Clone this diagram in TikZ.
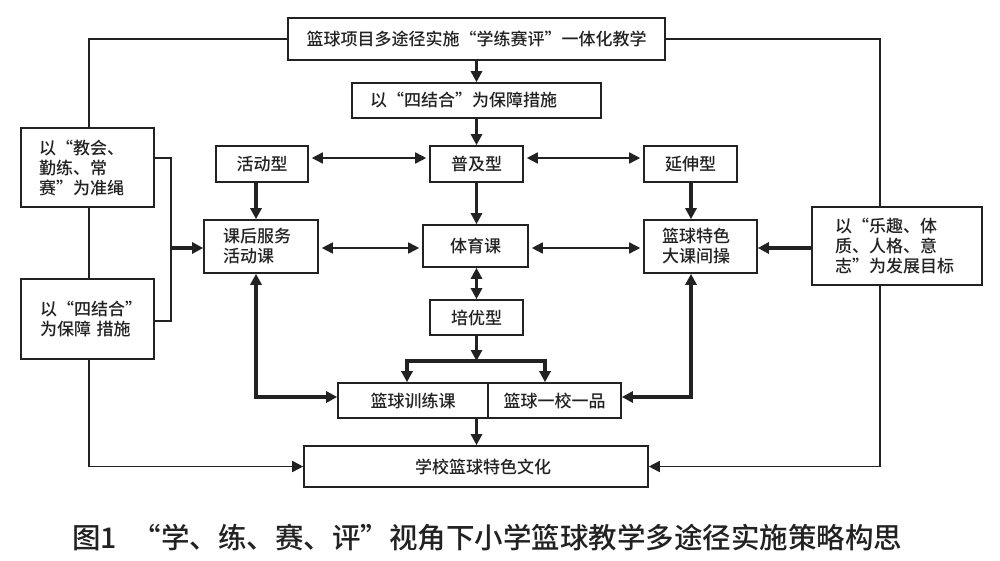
\documentclass[tikz,border=0pt]{standalone}
\usepackage{fontspec}
\setmainfont{Noto Sans CJK SC}[BoldFont={Noto Sans CJK SC Medium}]
\usetikzlibrary{arrows.meta,calc}
\definecolor{ink}{HTML}{222222}
\begin{document}
\begin{tikzpicture}[x=1pt,y=-1pt,
  box/.style={draw=ink, line width=1.6pt, inner sep=0pt, text=ink,
    font=\fontsize{17}{20}\selectfont\bfseries},
  ln/.style={draw=ink, line width=1.7pt},
  thk/.style={draw=ink, line width=3.2pt},
  tip/.style={-{Triangle[length=11pt,width=11pt]}},
  dtip/.style={{Triangle[length=11pt,width=11pt]}-{Triangle[length=11pt,width=11pt]}},
  gap/.style={shorten <=3pt, shorten >=3pt}
]
\useasboundingbox (0,0) rectangle (1000,561);
\fill[white] (0,0) rectangle (1000,561);

% boxes
\node[box, minimum width=377pt, minimum height=42pt] (top) at (476.5,39) {篮球项目多途径实施“学练赛评”一体化教学};
\node[box, minimum height=35pt, text width=213pt, inner xsep=18pt, align=left] (guar) at (476.5,100.5) {以“四结合”为保障措施};
\node[box, minimum width=92pt, minimum height=36pt] (act) at (262,164) {活动型};
\node[box, minimum width=93pt, minimum height=36pt] (pop) at (476.5,164) {普及型};
\node[box, minimum width=93pt, minimum height=36pt] (ext) at (690.5,164) {延伸型};
\node[box, minimum height=79pt, text width=97pt, inner xsep=18pt, align=left] (L1) at (87.5,167.5) {以“教会、\\勤练、常\\赛”为准绳};
\node[box, minimum height=80pt, text width=95pt, inner xsep=19pt, align=left] (L2) at (87.5,319) {以“四结合”\\为保障 措施};
\node[box, minimum height=53pt, text width=76pt, inner xsep=19pt, align=left] (after) at (261,246.5) {课后服务\\活动课};
\node[box, minimum width=105pt, minimum height=42pt] (pe) at (475.5,246) {体育课};
\node[box, minimum height=53pt, text width=77pt, inner xsep=18pt, align=left] (brk) at (700.5,246.5) {篮球特色\\大课间操};
\node[box, minimum height=78pt, text width=124pt, inner xsep=23pt, align=left] (R) at (897,246) {以“乐趣、体\\质、人格、意\\志”为发展目标};
\node[box, minimum width=93pt, minimum height=35pt] (py) at (476.5,317.5) {培优型};
\node[box, minimum width=150pt, minimum height=35pt] (tr) at (413,400.5) {篮球训练课};
\node[box, minimum width=133pt, minimum height=35pt] (one) at (554.5,400.5) {篮球一校一品};
\node[box, minimum width=344pt, minimum height=41pt] (sch) at (476,466.5) {\hspace{14pt}学校篮球特色文化};

\node[text=ink, inner sep=0pt, anchor=west, font=\fontsize{28.5}{30}\selectfont\bfseries] (cap) at (72,538) {图1\hspace{16pt}“学、练、赛、评”视角下小学篮球教学多途径实施策略构思};

% helper coordinates
\coordinate (y158) at (0,158);
\coordinate (y248) at (0,248);
\coordinate (y321) at (0,321);
\coordinate (y397) at (0,397);
\coordinate (xa) at (256,0);
\coordinate (xb) at (691,0);
\coordinate (xl) at (89,0);
\coordinate (xr) at (880,0);
\coordinate (xk) at (171,0);
\coordinate (bl) at (407,361);
\coordinate (br) at (545,361);

% connectors
\draw[thk,tip] (top.south) -- (guar.north);
\draw[thk,tip] (guar.south) -- (pop.north);
\draw[ln,dtip,gap] (act.east|-y158) -- (pop.west|-y158);
\draw[ln,dtip,gap] (pop.east|-y158) -- (ext.west|-y158);
\draw[thk,tip] (act.south-|xa) -- (after.north-|xa);
\draw[thk,tip] (pop.south) -- (pe.north-|pop.south);
\draw[thk,tip] (ext.south-|xb) -- (brk.north-|xb);
\draw[ln,dtip,gap] (after.east|-y248) -- (pe.west|-y248);
\draw[ln,dtip,gap] (pe.east|-y248) -- (brk.west|-y248);
\draw[thk,tip] (R.west|-y248) -- (brk.east|-y248);
\draw[thk,dtip] (pe.south-|py.north) -- (py.north);
\draw[thk,tip] (py.south) -- (py.south|-bl);
\draw[thk,dtip] (tr.north-|bl) -- (bl) -- (br) -- (one.north-|br);
\draw[thk,tip] (tr.south-|py.south) -- (sch.north-|py.south);
\draw[thk,dtip] (after.south-|xa) |- (tr.west|-y397);
\draw[thk,dtip] (brk.south-|xb) |- (one.east|-y397);

% outer frame lines
\draw[ln] (top.west) -| (L1.north-|xl);
\draw[ln] (L1.south-|xl) -- (L2.north-|xl);
\draw[ln,tip] (L2.south-|xl) |- (sch.west);
\draw[ln] (top.east) -| (R.north-|xr);
\draw[ln,tip] (R.south-|xr) |- (sch.east);

% bracket
\draw[ln] (L1.east|-y158) -| (xk|-y321) -- (L2.east|-y321);
\draw[thk,tip] (xk|-y248) -- (after.west|-y248);
\end{tikzpicture}
\end{document}
